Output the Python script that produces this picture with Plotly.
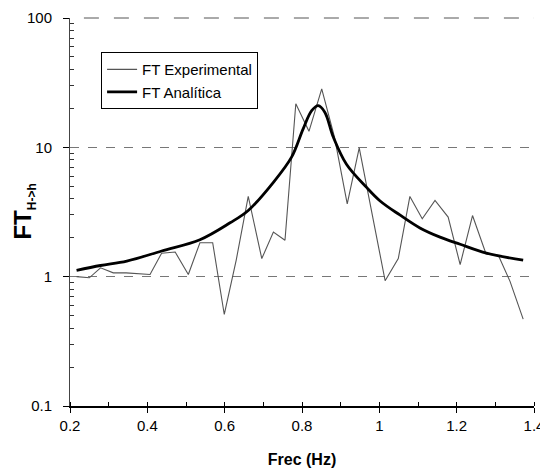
import plotly.graph_objects as go

# Experimental transfer function
exp_freq = [0.217, 0.250, 0.279, 0.312, 0.345, 0.376, 0.407, 0.437, 0.472, 0.506,
            0.536, 0.569, 0.599, 0.630, 0.661, 0.696, 0.726, 0.756, 0.784, 0.818,
            0.851, 0.884, 0.917, 0.948, 0.982, 1.015, 1.049, 1.079, 1.111, 1.144,
            1.178, 1.209, 1.241, 1.276, 1.308, 1.338, 1.372]
exp_ft = [1.00, 0.98, 1.17, 1.07, 1.07, 1.06, 1.04, 1.52, 1.55, 1.04,
          1.83, 1.83, 0.51, 1.35, 4.17, 1.38, 2.21, 1.91, 21.7, 13.3,
          28.3, 12.0, 3.66, 9.9, 3.0, 0.93, 1.38, 4.17, 2.8, 3.88,
          2.89, 1.24, 2.97, 1.5, 1.46, 0.92, 0.47]

# Analytic transfer function
ana_freq = [0.217, 0.279, 0.347, 0.437, 0.536, 0.614, 0.661, 0.726, 0.773, 0.803,
            0.825, 0.842, 0.859, 0.881, 0.915, 0.967, 1.002, 1.053, 1.105, 1.157,
            1.209, 1.277, 1.372]
ana_ft = [1.12, 1.22, 1.32, 1.58, 1.93, 2.61, 3.25, 5.37, 8.4, 13.9,
          19.2, 21.0, 18.7, 12.0, 7.4, 4.9, 3.85, 3.0, 2.38, 2.02,
          1.78, 1.52, 1.34]

x_ticks = [0.2, 0.4, 0.6, 0.8, 1.0, 1.2, 1.4]
x_labels = ["0.2", "0.4", "0.6", "0.8", "1", "1.2", "1.4"]
y_ticks = [0.1, 1, 10, 100]
y_labels = ["0.1", "1", "10", "100"]
y_minor = [m * d for d in (0.1, 1, 10) for m in range(2, 10)]

FONT = "Liberation Sans, Arial, sans-serif"

fig = go.Figure()
fig.add_trace(go.Scatter(
    x=exp_freq, y=exp_ft, mode="lines", name="FT Experimental",
    line=dict(color="#555555", width=1.1)))
fig.add_trace(go.Scatter(
    x=ana_freq, y=ana_ft, mode="lines", name="FT Analítica",
    line=dict(color="black", width=2.8, shape="spline", smoothing=1.0)))

# page body has an 8px margin, so the figure is offset by (8, 8)
fig.update_layout(
    width=540, height=460,
    margin=dict(l=62, r=14, t=10, b=62, autoexpand=False),
    paper_bgcolor="white", plot_bgcolor="white",
    font=dict(family=FONT, size=15, color="black"),
    showlegend=True,
    legend=dict(x=0.067, y=0.912, xanchor="left", yanchor="top",
                bgcolor="white", bordercolor="black", borderwidth=1,
                font=dict(size=15, color="black"), itemwidth=30,
                tracegroupgap=0),
    shapes=[dict(type="line", xref="paper", yref="paper", x0=0.03, x1=1.0,
                 y0=1, y1=1, line=dict(color="#555555", width=1, dash="longdash"))],
    annotations=[dict(text="<b>FT<sub><span style='font-size:12px'>H->h</span></sub></b>",
                      xref="paper", yref="paper", x=-0.1, y=0.5,
                      xanchor="center", yanchor="middle", textangle=-90,
                      showarrow=False, font=dict(size=24, family=FONT))],
)
fig.update_xaxes(
    range=[0.2, 1.4], tickvals=x_ticks, ticktext=x_labels,
    showline=True, linecolor="black", linewidth=1.5,
    ticks="outside", ticklen=5, tickcolor="black",
    minor=dict(ticks="inside", ticklen=4, tickcolor="black", dtick=0.1, showgrid=False),
    showgrid=False, zeroline=False, automargin=False,
    ticklabeloverflow="allow",
    title=dict(text="<b>Frec (Hz)</b>", font=dict(size=16), standoff=24),
)
fig.update_yaxes(
    type="log", range=[-1, 2], tickvals=y_ticks, ticktext=y_labels,
    showline=True, linecolor="#444444", linewidth=1,
    ticks="outside", ticklen=6, tickcolor="black", ticklabelstandoff=8,
    minor=dict(ticks="inside", ticklen=4, tickcolor="#333333",
               tickvals=y_minor, showgrid=False),
    showgrid=True, gridcolor="#777777", griddash="dash", gridwidth=1,
    zeroline=False, automargin=False,
)

fig.write_html("out.html")
